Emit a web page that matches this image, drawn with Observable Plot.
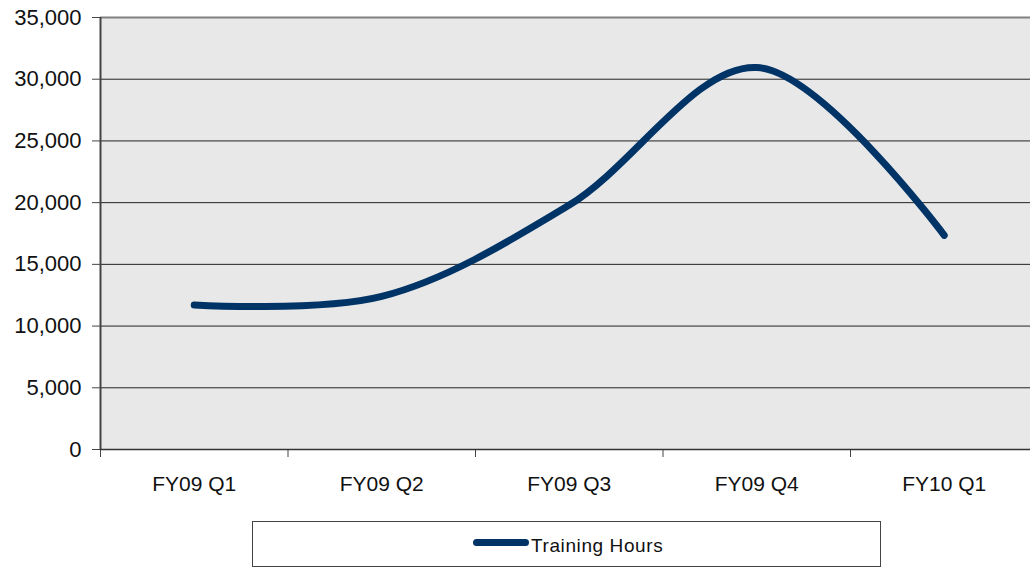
<!DOCTYPE html>
<html>
<head>
<meta charset="utf-8">
<script src="https://cdn.jsdelivr.net/npm/d3@7"></script>
<script src="https://cdn.jsdelivr.net/npm/@observablehq/plot@0.6"></script>
<style>
  html, body { margin: 0; padding: 0; background: #fff; }
  #chart { position: relative; width: 1030px; height: 568px; overflow: hidden; }
  #chart svg { display: block; }
  .legend {
    position: absolute; left: 252px; top: 521px; width: 627px; height: 44px;
    border: 1px solid #444; box-sizing: content-box; background: #fff;
    font-family: "Liberation Sans", Arial, sans-serif;
    font-size: 19px; letter-spacing: 0.6px; color: #111;
  }
  .legend .sw { position: absolute; left: 220px; top: 17px; width: 56px; height: 7px; border-radius: 4px; background: #003366; }
  .legend .tx { position: absolute; left: 278px; top: 13px; line-height: 22px; }
</style>
</head>
<body>
<div id="chart"></div>
<script>
const categories = ["FY09 Q1", "FY09 Q2", "FY09 Q3", "FY09 Q4", "FY10 Q1"];
const trainingHours = [11700, 12400, 19800, 30950, 17350];
const yTicks = [0, 5000, 10000, 15000, 20000, 25000, 30000, 35000];
const seriesName = "Training Hours";

const data = categories.map((c, i) => ({ pos: i + 0.5, cat: c, value: trainingHours[i] }));
const boundaries = d3.range(categories.length + 1);

const plot = Plot.plot({
  width: 1030,
  height: 500,
  marginLeft: 100,
  marginRight: 0,
  marginTop: 17,
  marginBottom: 51,
  style: { fontFamily: "'Liberation Sans', Arial, sans-serif", fontSize: "21px", color: "#111", background: "#fff", overflow: "hidden" },
  x: { type: "linear", domain: [0, categories.length], range: [100, 1037.5] },
  y: { domain: [0, 35000] },
  marks: [
    Plot.frame({ fill: "#e8e8e8", stroke: null }),
    Plot.ruleY(yTicks.slice(1), { stroke: "#222", strokeWidth: 1 }),
    Plot.ruleY([35000], { stroke: "#808080", strokeWidth: 2 }),
    Plot.axisY({ ticks: yTicks, tickFormat: d3.format(","), tickSize: 8, tickPadding: 11, stroke: "#444", fontSize: 22, label: null }),
    Plot.axisX({ ticks: boundaries, tickFormat: () => "", tickSize: 8, stroke: "#444", label: null }),
    Plot.axisX({ ticks: data.map(d => d.pos), tickFormat: (d) => categories[Math.round(d - 0.5)], tickSize: 0, tickPadding: 27, fontSize: 21, label: null }),
    Plot.ruleX([0], { stroke: "#444", strokeWidth: 2 }),
    Plot.ruleY([0], { stroke: "#333", strokeWidth: 1.5 }),
    Plot.line(data, { x: "pos", y: "value", curve: "catmull-rom", stroke: "#003366", strokeWidth: 7, strokeLinecap: "round", strokeLinejoin: "round" })
  ]
});

const chart = document.getElementById("chart");
chart.appendChild(plot);
const legend = document.createElement("div");
legend.className = "legend";
legend.innerHTML = `<span class="sw"></span><span class="tx">${seriesName}</span>`;
chart.appendChild(legend);
</script>
</body>
</html>
